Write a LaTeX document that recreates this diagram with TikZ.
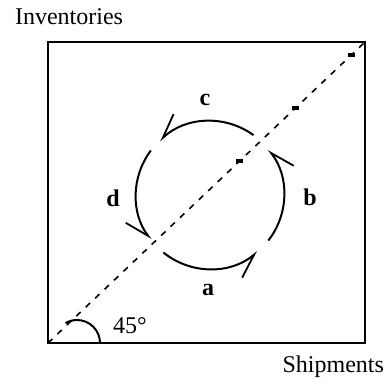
\documentclass[tikz,border=0pt]{standalone}
\usepackage{fontspec}
\setmainfont{Liberation Serif}
\usetikzlibrary{arrows.meta,positioning,calc}
\tikzset{
    frame/.style  = {draw=black, line width=1pt},
    diag/.style   = {draw=black, line width=0.8pt, dash pattern=on 3pt off 3.5pt},
    flow/.style   = {draw=black, line width=1pt, -{Straight Barb[harpoon,swap,length=12pt,width=10pt,line width=0.9pt]}},
    tick/.style   = {fill=black, minimum width=3.5pt, minimum height=1.6pt, inner sep=0pt},
    phase/.style  = {font=\fontsize{12}{14}\selectfont\bfseries},
    axislabel/.style = {font=\fontsize{12}{14}\selectfont}
}
\begin{document}
\begin{tikzpicture}[x=0.5pt, y=-0.5pt]
    \useasboundingbox (0,0) rectangle (392,387);

    % Frame
    \coordinate (ll) at (48,343);
    \coordinate (ur) at (365,42);
    \draw[frame] (ll) rectangle (ur);

    % Diagonal
    \draw[diag] (ll) -- (ur);
    \node[tick] (t1) at (351,55) {};
    \node[tick] (t2) at (295,108) {};
    \node[tick] (t3) at (239,161) {};

    % Cycle
    \coordinate (o) at (210,195);
    \draw[flow] ($(o)+(129:74)$) arc[start angle=129, end angle=50, radius=74];
    \draw[flow] ($(o)+(38:74)$) arc[start angle=38, end angle=-38, radius=74];
    \draw[flow] ($(o)+(-54:74)$) arc[start angle=-54, end angle=-133, radius=74];
    \draw[flow] ($(o)+(-143:74)$) arc[start angle=-143, end angle=-217, radius=74];

    % Phase labels
    \node[phase] (a) at (208,290) {a};
    \node[phase] (b) at (310,197) {b};
    \node[phase] (c) at (205,100) {c};
    \node[phase] (d) at (113,198) {d};

    % Angle
    \draw[frame] (100,343) arc[start angle=0, end angle=-120, radius=23];
    \node[axislabel, anchor=base west] (ang) at (106,333) {45°};

    % Axis labels
    \node[axislabel, anchor=base west] (inv) at (8,24) {Inventories};
    \node[axislabel, anchor=base east] (ship) at (391,372) {Shipments};
\end{tikzpicture}
\end{document}
